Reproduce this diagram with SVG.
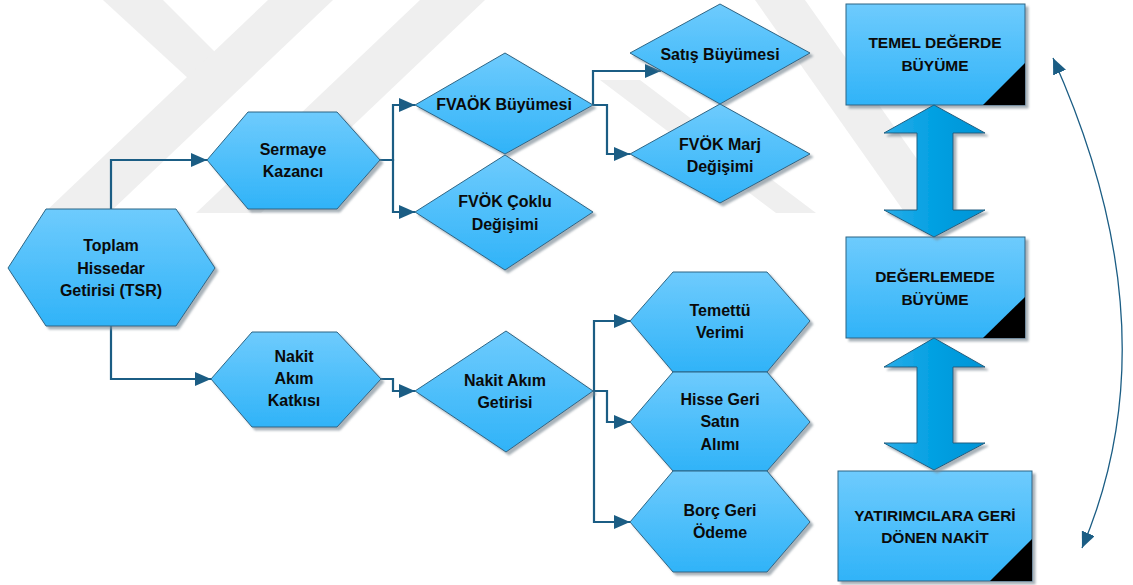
<svg xmlns="http://www.w3.org/2000/svg" width="1133" height="585" viewBox="0 0 1133 585">
<defs>
<linearGradient id="gNode" x1="0" y1="0" x2="0" y2="1">
<stop offset="0" stop-color="#6ecbfd"/>
<stop offset="1" stop-color="#30b3f8"/>
</linearGradient>
<linearGradient id="gArrow" x1="0" y1="0" x2="1" y2="0">
<stop offset="0" stop-color="#27ade9"/>
<stop offset="0.5" stop-color="#02a0e2"/>
<stop offset="1" stop-color="#0094d6"/>
</linearGradient>
<filter id="shadow" x="-10%" y="-10%" width="130%" height="130%">
<feDropShadow dx="3" dy="3" stdDeviation="1.2" flood-color="#7a8a94" flood-opacity="0.65"/>
</filter>
<marker id="arr" viewBox="0 0 16 14" refX="16" refY="7" markerWidth="16" markerHeight="14" markerUnits="userSpaceOnUse" orient="auto">
<path d="M0,0 L16,7 L0,14 Z" fill="#1b5d84"/>
</marker>
<marker id="arrC" viewBox="0 0 16 14" refX="16" refY="7" markerWidth="16" markerHeight="14" markerUnits="userSpaceOnUse" orient="auto-start-reverse">
<path d="M0,0 L16,7 L0,14 Z" fill="#1b5d84"/>
</marker>
<style>
.node{fill:url(#gNode);stroke:#2e6584;stroke-width:1;filter:url(#shadow)}
.dbl{fill:url(#gArrow);stroke:#1f5f80;stroke-width:1;filter:url(#shadow)}
.corner{fill:#000}
.t{font-family:"Liberation Sans",Arial,sans-serif;font-weight:bold;font-size:16px;fill:#0a0a0a;text-anchor:middle}
.tb{font-family:"Liberation Sans",Arial,sans-serif;font-weight:bold;font-size:15.5px;fill:#0a0a0a;text-anchor:middle}
.c{fill:none;stroke:#1b5d84;stroke-width:2.2;marker-end:url(#arr)}
.curve{fill:none;stroke:#1b5d84;stroke-width:1.3;marker-start:url(#arrC);marker-end:url(#arrC)}
.wm{fill:#efefef}
</style>
</defs>
<rect width="1133" height="585" fill="#ffffff"/>
<g id="watermark">
<polygon class="wm" points="103,0 163,0 225,62 190,80"/>
<polygon class="wm" points="268,0 333,0 109,213 44,213"/>
<polygon class="wm" points="420,0 485,0 261,213 196,213"/>
<polygon class="wm" points="600,80 640,80 816,213 776,213"/>
<polygon class="wm" points="755,0 805,0 955,213 905,213"/>
</g>
<g id="connectors">
<path class="c" d="M111,209 V160 H207"/>
<path class="c" d="M111,326 V379 H211"/>
<path class="c" d="M380,160 H393 V105 H415"/>
<path class="c" d="M380,160 H393 V212 H415"/>
<path class="c" d="M593,105 V71 H661"/>
<path class="c" d="M593,105 H607 V154 H630"/>
<path class="c" d="M381,379 H393 V391 H415"/>
<path class="c" d="M593,391 H594 V321 H630"/>
<path class="c" d="M593,391 H607 V422 H630"/>
<path class="c" d="M594,391 V522 H630"/>
<path class="curve" d="M1053,58 Q1175,330 1082,548"/>
</g>
<g id="n-tsr">
<polygon class="node" points="8,268 46,209 176,209 215,268 176,326 46,326"/>
<text class="t" x="111" y="251">Toplam</text>
<text class="t" x="111" y="273.5">Hissedar</text>
<text class="t" x="111" y="296">Getirisi (TSR)</text>
</g>
<g id="n-sermaye">
<polygon class="node" points="207,160 248,112 337,112 380,160 337,209 248,209"/>
<text class="t" x="293" y="155">Sermaye</text>
<text class="t" x="293" y="177">Kazancı</text>
</g>
<g id="n-nakitkatki">
<polygon class="node" points="211,379 252,332 337,332 381,379 337,427 252,427"/>
<text class="t" x="294" y="362">Nakit</text>
<text class="t" x="294" y="384">Akım</text>
<text class="t" x="294" y="406">Katkısı</text>
</g>
<g id="n-fvaok">
<polygon class="node" points="415,105 505,53 593,105 505,154"/>
<text class="t" x="504" y="110">FVAÖK Büyümesi</text>
</g>
<g id="n-fvokcoklu">
<polygon class="node" points="415,212 505,155 593,212 505,270"/>
<text class="t" x="505" y="207">FVÖK Çoklu</text>
<text class="t" x="505" y="230">Değişimi</text>
</g>
<g id="n-satis">
<polygon class="node" points="630,53 720,4 810,53 720,104"/>
<text class="t" x="720" y="60">Satış Büyümesi</text>
</g>
<g id="n-fvokmarj">
<polygon class="node" points="630,154 720,104 810,154 720,203"/>
<text class="t" x="720" y="150">FVÖK Marj</text>
<text class="t" x="720" y="172">Değişimi</text>
</g>
<g id="n-nakitgetiri">
<polygon class="node" points="415,391 506,331 593,391 506,452"/>
<text class="t" x="505" y="386">Nakit Akım</text>
<text class="t" x="505" y="408">Getirisi</text>
</g>
<g id="n-temettu">
<polygon class="node" points="630,321 673,272 767,272 810,321 767,372 673,372"/>
<text class="t" x="720" y="316">Temettü</text>
<text class="t" x="720" y="338">Verimi</text>
</g>
<g id="n-hisse">
<polygon class="node" points="630,422 673,372 767,372 810,422 767,471 673,471"/>
<text class="t" x="720" y="405">Hisse Geri</text>
<text class="t" x="720" y="427">Satın</text>
<text class="t" x="720" y="450">Alımı</text>
</g>
<g id="n-borc">
<polygon class="node" points="630,522 673,471 767,471 810,522 767,572 673,572"/>
<text class="t" x="720" y="516">Borç Geri</text>
<text class="t" x="720" y="538">Ödeme</text>
</g>
<g id="n-temel">
<rect class="node" x="846" y="4" width="179" height="101"/>
<polygon class="corner" points="983,105 1025,105 1025,63"/>
<text class="tb" x="935" y="48">TEMEL DEĞERDE</text>
<text class="tb" x="935" y="71">BÜYÜME</text>
</g>
<g id="n-degerleme">
<rect class="node" x="846" y="237" width="179" height="101"/>
<polygon class="corner" points="983,338 1025,338 1025,297"/>
<text class="tb" x="935" y="282">DEĞERLEMEDE</text>
<text class="tb" x="935" y="305">BÜYÜME</text>
</g>
<g id="n-yatirimci">
<rect class="node" x="838" y="471" width="194" height="110"/>
<polygon class="corner" points="990,581 1032,581 1032,539"/>
<text class="tb" x="935" y="521">YATIRIMCILARA GERİ</text>
<text class="tb" x="935" y="543">DÖNEN NAKİT</text>
</g>
<g id="dbl-arrows">
<polygon class="dbl" points="934,105 985,133 953,133 953,210 985,210 934,237 884,210 917,210 917,133 884,133"/>
<polygon class="dbl" points="934,338 985,367 953,367 953,443 985,443 934,470 884,443 917,443 917,367 884,367"/>
</g>
</svg>
